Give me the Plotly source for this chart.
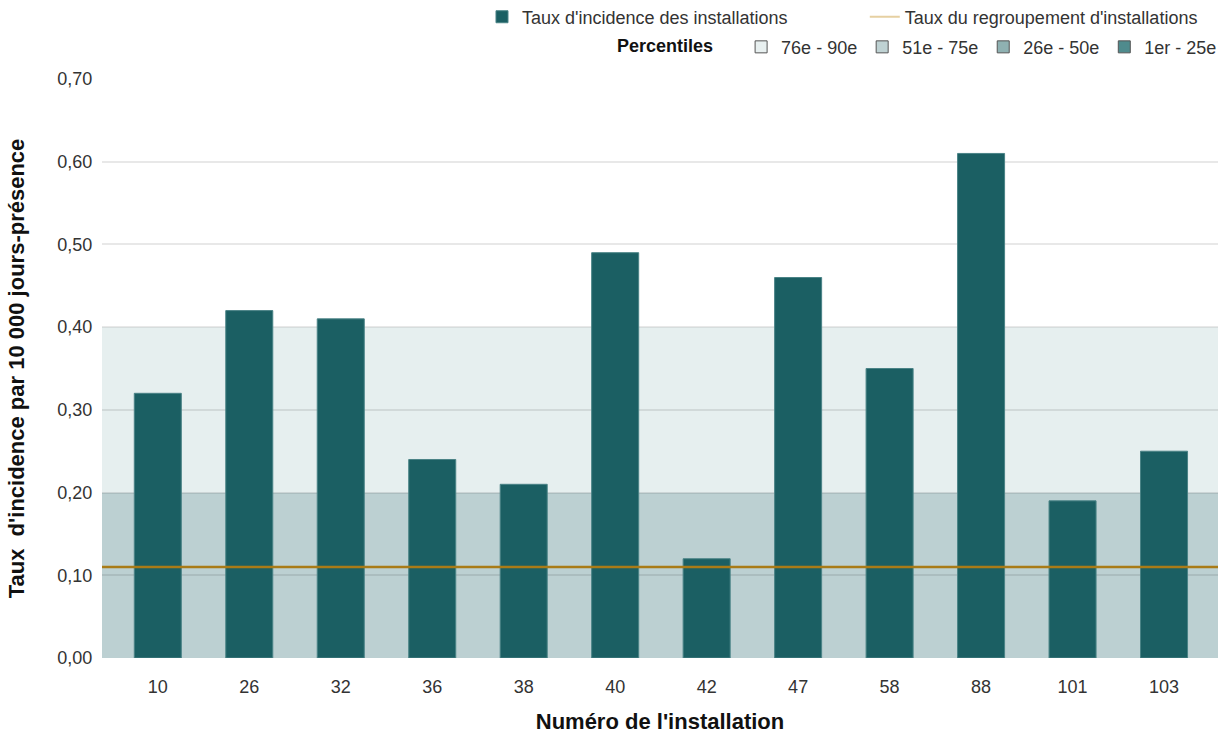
import plotly.graph_objects as go

# ---- data ----
categories = ["10", "26", "32", "36", "38", "40", "42", "47", "58", "88", "101", "103"]
rates = [0.32, 0.42, 0.41, 0.24, 0.21, 0.49, 0.12, 0.46, 0.35, 0.61, 0.19, 0.25]
group_rate = 0.11

# percentile bands drawn on the plot (lower, upper)
band_lower = [0.00, 0.20]
band_upper = [0.20, 0.40]
band_fill = ["#bcd0d2", "#e6efef"]

# percentile legend entries
pct_labels = ["76e - 90e", "51e - 75e", "26e - 50e", "1er - 25e"]
pct_colors = ["#e8f0f0", "#bfd2d3", "#8fb1b2", "#4f8b8d"]

bar_color = "#1b5f63"
line_color = "#a97b17"
FONT = "Liberation Sans, Arial, sans-serif"

fig = go.Figure()

fig.add_trace(go.Bar(
    x=categories, y=rates, name="Taux d'incidence des installations",
    marker=dict(color=bar_color, line=dict(color="#4a8386", width=1)),
    width=0.514, legend="legend", showlegend=True,
))

# legend entry for group rate line
fig.add_trace(go.Scatter(
    x=[None], y=[None], mode="lines", name="Taux du regroupement d'installations",
    line=dict(color="#e6d0a2", width=2), legend="legend3",
))

for lab, col in zip(pct_labels, pct_colors):
    fig.add_trace(go.Scatter(
        x=[None], y=[None], mode="markers", name=lab, legend="legend2",
        marker=dict(symbol="square", size=12, color=col, line=dict(color="#555555", width=1)),
    ))

shapes = []
for lo, hi, col in zip(band_lower, band_upper, band_fill):
    shapes.append(dict(type="rect", xref="paper", yref="y", x0=0, x1=1, y0=lo, y1=hi,
                       fillcolor=col, line=dict(width=0), layer="below"))
shapes.append(dict(type="line", xref="paper", yref="y", x0=0, x1=1, y0=group_rate, y1=group_rate,
                   line=dict(color=line_color, width=2.5), layer="above"))

leg_common = dict(orientation="h", yanchor="middle", xanchor="left",
                  font=dict(size=18, color="#333333"), bgcolor="rgba(0,0,0,0)")

fig.update_layout(
    width=1225, height=736,
    margin=dict(l=102, r=7, t=79, b=78, autoexpand=False),
    paper_bgcolor="white", plot_bgcolor="white",
    separators=", ",
    font=dict(family=FONT, size=18, color="#333333"),
    shapes=shapes,
    xaxis=dict(
        type="category", range=[-0.61, 11.59], showgrid=False, zeroline=False,
        ticks="outside", ticklen=12, tickcolor="rgba(0,0,0,0)", automargin=False,
        tickfont=dict(size=18, color="#333333"),
        title=dict(text="Numéro de l'installation", font=dict(size=22, color="#111111", family=FONT, weight="bold"), standoff=18),
    ),
    yaxis=dict(
        range=[0, 0.70], tickvals=[0, 0.1, 0.2, 0.3, 0.4, 0.5, 0.6, 0.7], tickformat=".2f",
        showgrid=True, gridcolor="rgba(0,0,0,0.09)", gridwidth=1.5, zeroline=False,
        ticks="outside", ticklen=5, tickcolor="rgba(0,0,0,0)", automargin=False,
        tickfont=dict(size=18, color="#333333"),
        title=dict(text="Taux\u00a0 d'incidence par 10 000 jours-présence", font=dict(size=22, color="#111111", family=FONT, weight="bold"), standoff=26),
    ),
    legend=dict(x=0.3405, y=1.107, **leg_common),
    legend3=dict(x=0.6835, y=1.107, **leg_common),
    legend2=dict(x=0.4597, y=1.055, **leg_common,
                 title=dict(text="<b>Percentiles</b>\u00a0\u00a0\u00a0\u00a0", side="left", font=dict(size=18, color="#111111"))),
)

fig.write_html("out.html", config={"displayModeBar": False},
               post_script="document.body.style.margin='0';document.body.style.overflow='hidden';")
